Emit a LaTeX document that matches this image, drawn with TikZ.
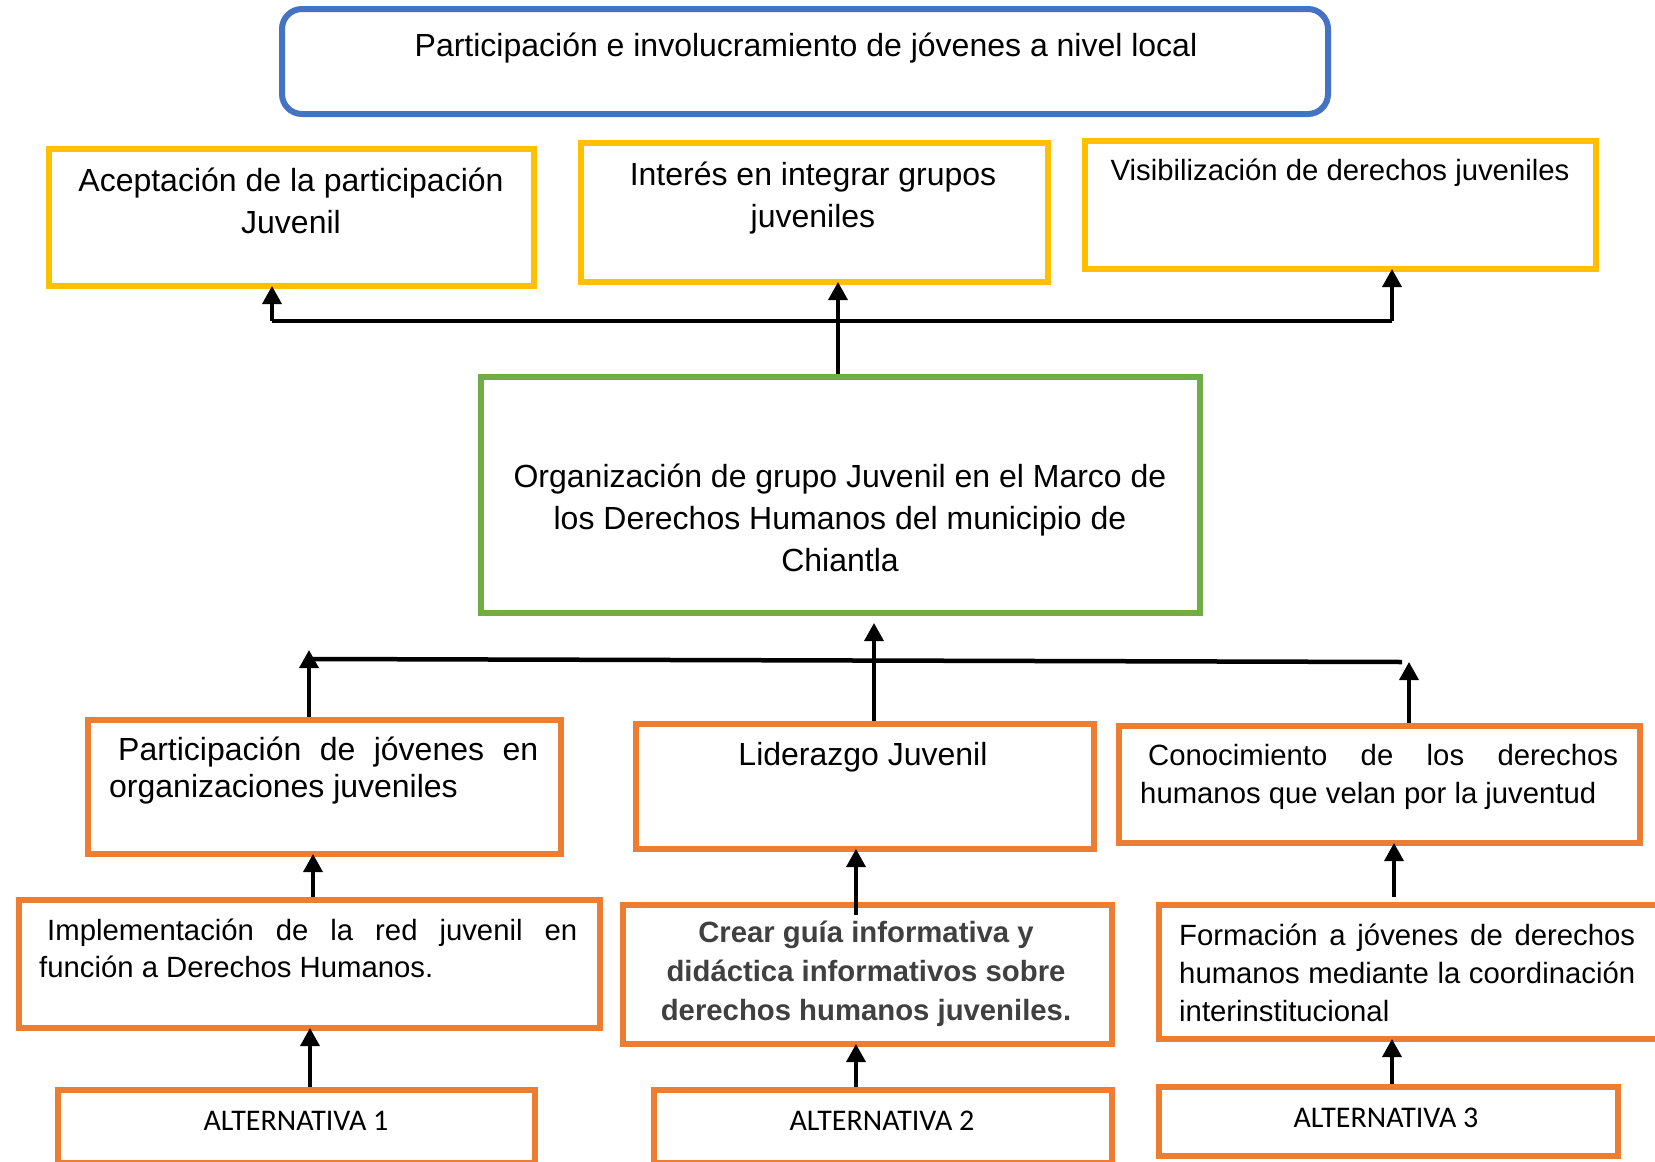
\documentclass[tikz,border=0pt]{standalone}
\usepackage{fontspec}
\setmainfont{Liberation Sans}
\newfontfamily\calib{Carlito}
\usetikzlibrary{arrows.meta}
\definecolor{cblue}{HTML}{4472C4}
\definecolor{cyel}{HTML}{FFC000}
\definecolor{cgreen}{HTML}{70AD47}
\definecolor{corange}{HTML}{ED7D31}
\tikzset{
  box/.style={draw, line width=6pt, inner sep=0pt, anchor=north west},
  ybox/.style={box, draw=cyel},
  obox/.style={box, draw=corange},
  gbox/.style={box, draw=cgreen},
  tbox/.style={box, draw=cblue, rounded corners=20pt},
  arr/.style={line width=3.5pt, shorten >=-3pt, -{Triangle[length=18pt,width=19pt]}},
  hline/.style={line width=4.5pt},
  txt/.style={inner sep=0pt, anchor=base, align=center},
  txtl/.style={inner sep=0pt, anchor=base west, align=left},
  big/.style={font=\fontsize{32}{42}\selectfont},
  mid/.style={font=\fontsize{29.3}{38}\selectfont},
  alt/.style={inner sep=0pt, anchor=base, font=\calib\fontsize{30}{36}\selectfont},
}
\begin{document}
\begin{tikzpicture}[x=1pt,y=-1pt]
\useasboundingbox[fill=white] (0,0) rectangle (1655,1162);

% top
\node[tbox, minimum width=1046pt, minimum height=105pt] (T) at (279,6) {};
\node[txt, big] (Tt) at (806,56) {Participación e involucramiento de jóvenes a nivel local};

% yellow row
\node[ybox, minimum width=485pt, minimum height=137pt] (Y1) at (46,146) {};
\node[txt, big] (Y1t) at (291,233) {Aceptación de la participación\\Juvenil};
\node[ybox, minimum width=467pt, minimum height=139pt] (Y2) at (578,140) {};
\node[txt, big] (Y2t) at (813,227) {Interés en integrar grupos\\juveniles};
\node[ybox, minimum width=511pt, minimum height=128pt] (Y3) at (1082,138) {};
\node[txt, mid] (Y3t) at (1340,180) {Visibilización de derechos juveniles};

% green
\node[gbox, minimum width=719pt, minimum height=236pt] (Gr) at (478,374) {};
\node[txt, big] (Grt) at (840,571) {Organización de grupo Juvenil en el Marco de\\los Derechos Humanos del municipio de\\Chiantla};

% orange row 1
\node[obox, minimum width=473pt, minimum height=134pt] (A) at (85,717) {};
\node[txtl, font=\fontsize{32}{37}\selectfont] (At) at (109,797) {\hspace*{9pt}\makebox[420pt][s]{Participación de jóvenes en}\\organizaciones juveniles};
\node[obox, minimum width=458pt, minimum height=125pt] (B) at (633,721) {};
\node[txt, big] (Bt) at (863,765) {Liderazgo Juvenil};
\node[obox, minimum width=521pt, minimum height=117pt] (C) at (1116,723) {};
\node[txtl, mid] (Ct) at (1140,803) {\hspace*{8pt}\makebox[470pt][s]{Conocimiento de los derechos}\\humanos que velan por la juventud};

% orange row 2
\node[obox, minimum width=581pt, minimum height=128pt] (D) at (16,897) {};
\node[txtl, font=\fontsize{29.3}{37}\selectfont] (Dt) at (39,977) {\hspace*{8pt}\makebox[530pt][s]{Implementación de la red juvenil en}\\función a Derechos Humanos.};
\node[obox, minimum width=489pt, minimum height=139pt] (E) at (620,902) {};
\node[txt, font=\fontsize{29.3}{39}\selectfont\bfseries, text=black!75] (Et) at (866,1020) {Crear guía informativa y\\didáctica informativos sobre\\derechos humanos juveniles.};
\node[obox, minimum width=521pt, minimum height=134pt] (F) at (1156,902) {};
\node[txtl, mid] (Ft) at (1179,1021) {\makebox[456pt][s]{Formación a jóvenes de derechos}\\\makebox[456pt][s]{humanos mediante la coordinación}\\interinstitucional};

% alternatives
\node[obox, minimum width=477pt, minimum height=73pt] (G) at (55,1087) {};
\node[alt] (Gt) at (296,1130) {ALTERNATIVA 1};
\node[obox, minimum width=458pt, minimum height=73pt] (H) at (651,1087) {};
\node[alt] (Ht) at (882,1130) {ALTERNATIVA 2};
\node[obox, minimum width=459pt, minimum height=69pt] (I) at (1156,1084) {};
\node[alt] (It) at (1386,1127) {ALTERNATIVA 3};

% upper connectors
\coordinate (tl) at (272,321);
\coordinate (tr) at (1392,321);
\coordinate (tm) at (838,321);
\draw[hline] (tl) -- (tr);
\draw[arr] (tl) -- (tl |- Y1.south);
\draw[arr] (tr) -- (tr |- Y3.south);
\draw[arr] (tm |- Gr.north) -- (tm |- Y2.south);

% lower connectors
\coordinate (ll) at (309,659);
\coordinate (lr) at (1402,662);
\draw[hline] (ll) -- (lr);
\coordinate (ltip) at (309,650);
\coordinate (rtip) at (1409,662);
\coordinate (mtip) at (874,623);
\draw[arr, shorten >=0pt] (ltip |- A.north) -- (ltip);
\draw[arr, shorten >=0pt] (rtip |- C.north) -- (rtip);
\draw[arr, shorten >=0pt] (mtip |- B.north) -- (mtip);

% between rows
\coordinate (c1) at (313,0);
\coordinate (c2) at (856,915);
\coordinate (c3) at (1394,897);
\coordinate (c4) at (310,0);
\coordinate (c5) at (856,0);
\coordinate (c6) at (1392,0);
\draw[arr] (c1 |- D.north) -- (c1 |- A.south);
\draw[arr] (c2) -- (c2 |- B.south);
\draw[arr] (c3) -- (c3 |- C.south);
\draw[arr] (c4 |- G.north) -- (c4 |- D.south);
\draw[arr] (c5 |- H.north) -- (c5 |- E.south);
\draw[arr] (c6 |- I.north) -- (c6 |- F.south);
\end{tikzpicture}
\end{document}
